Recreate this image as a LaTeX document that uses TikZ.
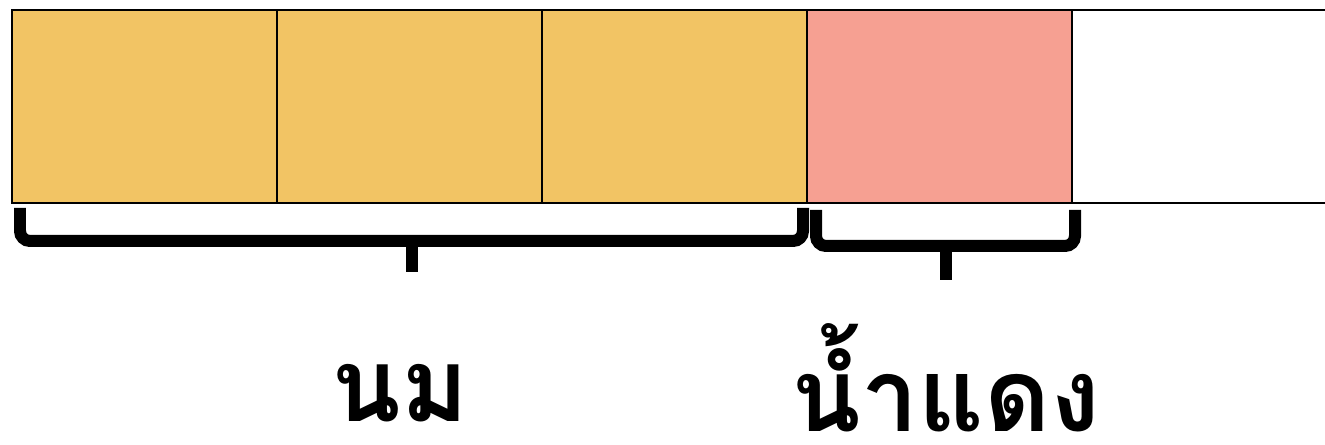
\documentclass[tikz,border=0pt]{standalone}
\usepackage{fontspec}
\newfontfamily\thaifont[Script=Thai]{Loma}
\usetikzlibrary{positioning}
\definecolor{milkcol}{RGB}{242,196,100}
\definecolor{syrupcol}{RGB}{246,160,146}

\begin{document}
\begin{tikzpicture}[x=0.02cm,y=-0.02cm]
        \tikzset{cell/.style= {draw, rectangle, line width=0.04cm, minimum width=5.3cm, minimum height=3.86cm, inner sep=0pt, outer sep=0pt},
        bracket/.style={line width=0.24cm, rounded corners=0.2cm},
        thaiword/.style={font=\thaifont\bfseries\fontsize{58}{70}\selectfont, anchor=base, inner sep=0pt, text depth=0pt},
        }
        \useasboundingbox (0,0) rectangle (1325,445);
        \node [cell, fill=milkcol, anchor=north west] (milkA) at (12,10) {};
        \node [cell, fill=milkcol, right =0pt of milkA] (milkB) {};
        \node [cell, fill=milkcol, right =0pt of milkB] (milkC) {};
        \node [cell, fill=syrupcol, right =0pt of milkC] (syrup) {};
        \coordinate (edge) at (1325,10);
%% open cell
        \draw[line width=0.04cm] (syrup.north east) -- (edge |- syrup.north)
                    (syrup.south east) -- (edge |- syrup.south);
%% braces
        \draw[bracket] (20,208) -- (20,241) -- (803,241) -- (803,208);
        \draw[line width=0.24cm] (412,240) -- (412,272);
        \draw[bracket] (816,210) -- (816,246) -- (1075,246) -- (1075,210);
        \draw[line width=0.24cm] (946,245) -- (946,280);
%% words
        \node [thaiword] (milk) at (400,422) {นม};
        \node [thaiword] (syrupword) at (946,432) {น้ำแดง};
    \end{tikzpicture}
\end{document}
